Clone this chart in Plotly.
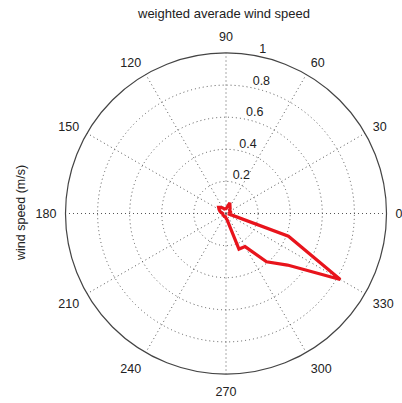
import plotly.graph_objects as go

directions = [0, 10, 20, 30, 40, 50, 60, 70, 80, 90, 100, 110, 120, 130, 140, 150,
              160, 170, 180, 190, 200, 210, 220, 230, 240, 250, 260, 270, 280, 290,
              300, 310, 320, 330, 340, 350, 0]
speeds = [0.02, 0.02, 0.03, 0.03, 0.03, 0.04, 0.05, 0.07, 0.04, 0.03, 0.03, 0.03, 0.04, 0.05, 0.06, 0.05,
          0.04, 0.03, 0.02, 0.02, 0.02, 0.02, 0.02, 0.02, 0.02, 0.02, 0.02, 0.03, 0.04, 0.236,
          0.238, 0.393, 0.50, 0.822, 0.414, 0.02, 0.02]

angular_ticks = [0, 30, 60, 90, 120, 150, 180, 210, 240, 270, 300, 330]
angular_labels = [str(a) for a in angular_ticks]
radial_ticks = [0.2, 0.4, 0.6, 0.8, 1]
radial_labels = ["0.2", "0.4", "0.6", "0.8", "1"]
radial_label_angle = 78

fig = go.Figure()
fig.add_trace(go.Scatterpolar(
    r=speeds, theta=directions, mode="lines",
    line=dict(color="#e8141c", width=3.2),
    showlegend=False, hoverinfo="skip",
))
# radial tick labels, placed MATLAB-style above-right of each ring
fig.add_trace(go.Scatterpolar(
    r=radial_ticks, theta=[radial_label_angle] * len(radial_ticks),
    mode="text", text=radial_labels, textposition="top right",
    textfont=dict(size=12.5, color="#222"),
    cliponaxis=False, showlegend=False, hoverinfo="skip",
))

cx, cy, R = 226.0, 213.5, 160.5
W, H = 402, 403

fig.update_layout(
    width=W, height=H,
    margin=dict(l=0, r=0, t=0, b=0),
    paper_bgcolor="white",
    font=dict(family="Liberation Sans, Arial, sans-serif", size=12, color="#222"),
    polar=dict(
        domain=dict(x=[(cx - R) / W, (cx + R) / W],
                    y=[(H - cy - R) / H, (H - cy + R) / H]),
        bgcolor="white",
        angularaxis=dict(
            direction="counterclockwise", rotation=0,
            tickmode="array", tickvals=angular_ticks, ticktext=angular_labels,
            showline=True, linecolor="#444", linewidth=1.2,
            showgrid=True, gridcolor="#555", griddash="1px,3px", gridwidth=1,
            ticks="outside", ticklen=6, tickcolor="rgba(0,0,0,0)",
            tickfont=dict(size=12.5, color="#222"),
        ),
        radialaxis=dict(
            range=[0, 1], angle=80,
            tickmode="array", tickvals=radial_ticks, ticktext=radial_labels,
            showline=False, ticks="", showticklabels=False,
            showgrid=True, gridcolor="#555", griddash="1px,3px", gridwidth=1,
        ),
    ),
    annotations=[
        dict(text="weighted averade wind speed", x=223 / W, y=1 - 14 / H,
             xref="paper", yref="paper", showarrow=False, borderpad=0,
             xanchor="center", yanchor="middle",
             font=dict(size=13, color="#222")),
        dict(text="wind speed (m/s)", x=21 / W, y=1 - 213 / H,
             xref="paper", yref="paper", showarrow=False, textangle=-90,
             xanchor="center", yanchor="middle",
             borderpad=0, font=dict(size=12.5, color="#222")),
    ],
)

fig.write_html("out.html")
